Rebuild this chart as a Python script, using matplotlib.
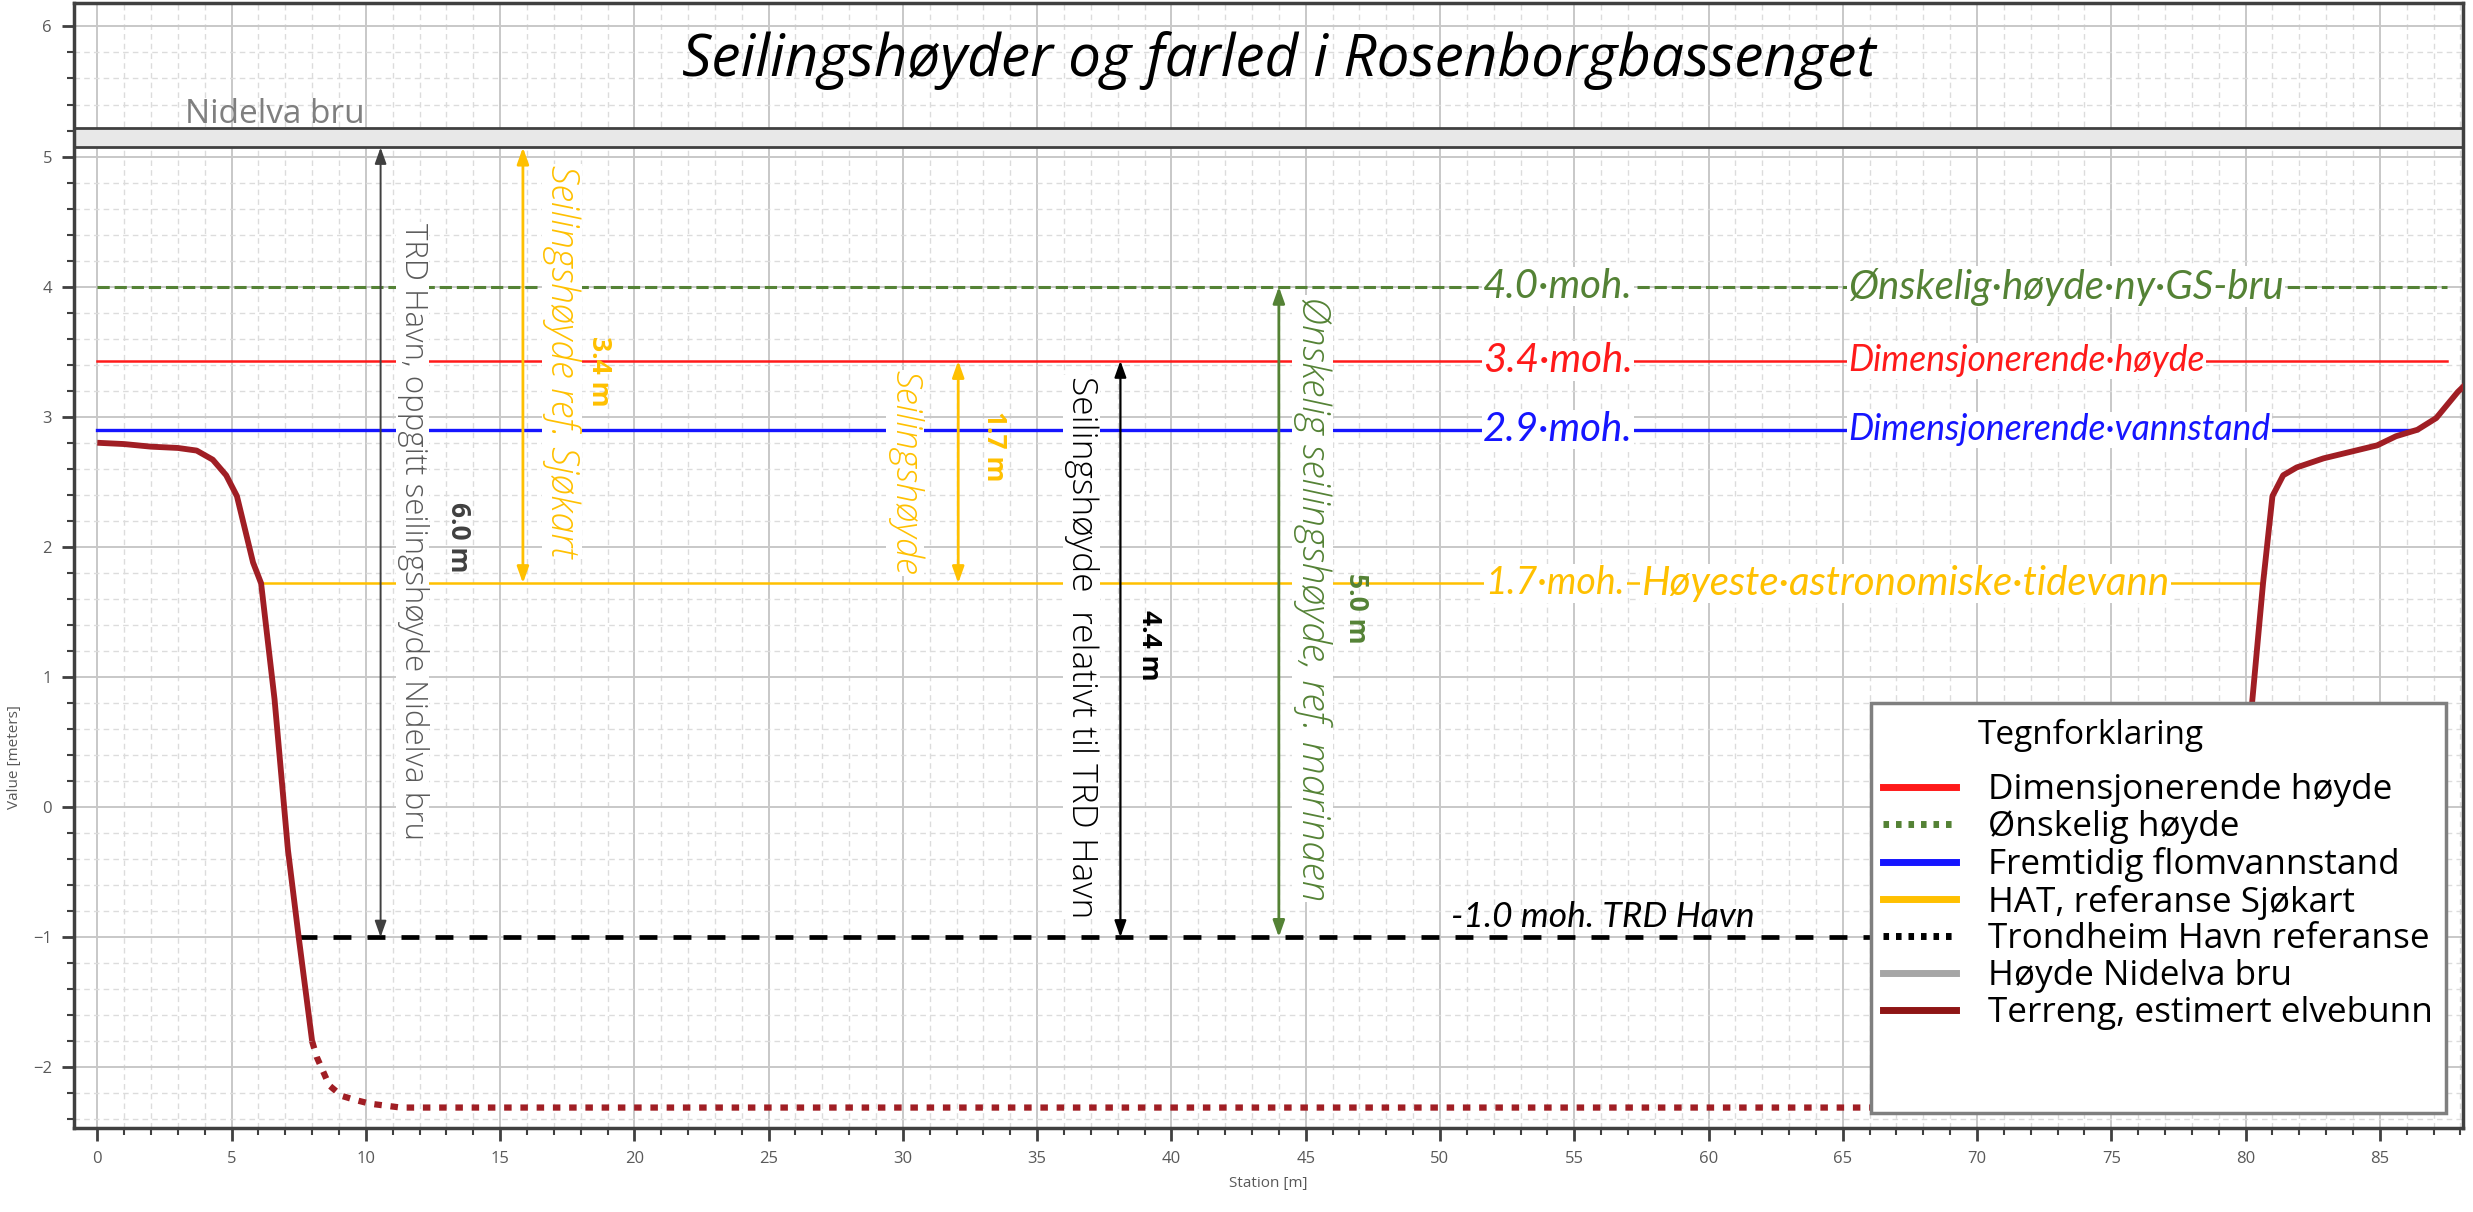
import matplotlib.pyplot as plt
from matplotlib.lines import Line2D
from matplotlib.patches import Rectangle
from matplotlib.ticker import MultipleLocator

# terrain profile, station [m] vs elevation [moh.]
terr_left_x = [0, 1, 2, 3, 3.7, 4.3, 4.8, 5.2, 5.8, 6.1, 6.6, 7.1, 7.5, 8.0]
terr_left_y = [2.80, 2.79, 2.77, 2.76, 2.74, 2.67, 2.55, 2.39, 1.88, 1.72, 0.83, -0.33, -1.0, -1.80]
bed_x = [8.0, 8.17, 8.64, 9.1, 9.58, 10.15, 11.3, 20, 40, 60, 79.0]
bed_y = [-1.80, -1.92, -2.14, -2.22, -2.25, -2.28, -2.31, -2.31, -2.31, -2.31, -2.31]
terr_right_x = [79.0, 79.6, 80.25, 80.65, 81.0, 81.4, 81.9, 82.9, 83.9, 84.9, 85.6, 86.4, 87.1, 87.9, 88.2]
terr_right_y = [-2.31, -1.0, 0.82, 1.72, 2.39, 2.55, 2.61, 2.68, 2.73, 2.78, 2.85, 2.90, 2.99, 3.19, 3.25]

# reference levels
wish_level = 4.0
design_level = 3.43
flood_level = 2.90
hat_level = 1.72
trd_level = -1.0
bridge_bottom = 5.07
bridge_top = 5.22

legend_labels = ["Dimensjonerende høyde", "Ønskelig høyde", "Fremtidig flomvannstand",
                 "HAT, referanse Sjøkart", "Trondheim Havn referanse", "Høyde Nidelva bru",
                 "Terreng, estimert elvebunn"]

RED = "#FF1A1A"
GREEN = "#548235"
BLUE = "#1515FF"
YELLOW = "#FFC000"
TERRAIN = "#A01E24"
DARK = "#404040"

fig = plt.figure(figsize=(24.73, 12.12), dpi=100)
ax = fig.add_axes([0.030, 0.069, 0.966, 0.9285])
ax.set_xlim(-0.86, 88.1)
ax.set_ylim(-2.47, 6.18)

# axes look
ax.xaxis.set_major_locator(MultipleLocator(5))
ax.xaxis.set_minor_locator(MultipleLocator(1))
ax.yaxis.set_major_locator(MultipleLocator(1))
ax.yaxis.set_minor_locator(MultipleLocator(0.2))
ax.grid(which="major", color="#c8c8c8", lw=1.4)
ax.grid(which="minor", color="#dcdcdc", lw=1.0, ls=(0, (4, 3)))
ax.set_axisbelow(True)
ax.tick_params(which="major", length=9, width=2, color=DARK, labelsize=12, labelcolor="#595959", pad=7)
ax.tick_params(which="minor", length=5, width=1.5, color=DARK)
for lab in ax.get_xticklabels() + ax.get_yticklabels():
    lab.set_family("Open Sans")
for s in ax.spines.values():
    s.set_color(DARK)
    s.set_linewidth(2.5)
ax.set_xlabel("Station [m]", fontsize=11, color="#595959", family="Open Sans", labelpad=7)
ax.set_ylabel("Value [meters]", fontsize=11, color="#595959", family="Open Sans")
ax.yaxis.set_label_coords(-0.022, 0.33)

# bridge
ax.axhspan(bridge_bottom, bridge_top, facecolor="#e8e8e8", edgecolor=DARK, lw=2, zorder=2)
ax.text(3.26, 5.26, "Nidelva bru", fontsize=24, color="#7f7f7f", family="Open Sans",
        va="baseline", zorder=3)

# title
ax.text(44.0, 5.62, "Seilingshøyder og farled i Rosenborgbassenget", fontsize=42,
        family="Open Sans", style="italic", ha="center", va="baseline", zorder=3)

# reference lines
ax.plot([0, 87.5], [wish_level, wish_level], color=GREEN, lw=2.2, ls=(0, (4, 1.6)), zorder=3)
ax.plot([0, 87.5], [design_level, design_level], color=RED, lw=1.8, zorder=3)
ax.plot([0, 86.4], [flood_level, flood_level], color=BLUE, lw=2.4, zorder=3)
ax.plot([6.1, 80.65], [hat_level, hat_level], color=YELLOW, lw=1.8, zorder=3)
ax.plot([7.5, 79.6], [trd_level, trd_level], color="black", lw=3.4, ls=(0, (3.8, 3.4)), zorder=3)

# terrain
ax.plot(terr_left_x, terr_left_y, color=TERRAIN, lw=4.2, solid_capstyle="butt", zorder=4)
ax.plot(bed_x, bed_y, color=TERRAIN, lw=4.5, ls=(0, (1.2, 1.4)), dash_capstyle="butt", zorder=4)
ax.plot(terr_right_x, terr_right_y, color=TERRAIN, lw=4.2, solid_capstyle="butt", zorder=4)

# labels on the reference lines
wbox = dict(facecolor="white", edgecolor="none", pad=1)
lab_kw = dict(family="Lato", style="italic", va="center", ha="left", bbox=wbox, zorder=5)
ax.text(51.6, wish_level, "4.0·moh.", color=GREEN, fontsize=29, **lab_kw)
ax.text(65.2, wish_level, "Ønskelig·høyde·ny·GS-bru", color=GREEN, fontsize=29, **lab_kw)
ax.text(51.6, design_level, "3.4·moh.", color=RED, fontsize=29, **lab_kw)
ax.text(65.2, design_level, "Dimensjonerende·høyde", color=RED, fontsize=25.6, **lab_kw)
ax.text(51.6, flood_level, "2.9·moh.", color=BLUE, fontsize=29, **lab_kw)
ax.text(65.2, flood_level, "Dimensjonerende·vannstand", color=BLUE, fontsize=25.6, **lab_kw)
ax.text(51.7, hat_level, "1.7·moh.", color=YELLOW, fontsize=27, **lab_kw)
ax.text(57.5, hat_level, "Høyeste·astronomiske·tidevann", color=YELLOW, fontsize=29, **lab_kw)
ax.text(50.4, -0.92, "-1.0 moh. TRD Havn", color="black", fontsize=25.5, family="Lato",
        style="italic", va="baseline", ha="left", zorder=5)


# height arrows
def height_arrow(x, y0, y1, color, lw):
    ax.annotate("", xy=(x, y1), xytext=(x, y0), zorder=6,
                arrowprops=dict(arrowstyle="<|-|>,head_length=0.7,head_width=0.25",
                                color=color, lw=lw, shrinkA=0, shrinkB=0, mutation_scale=14))


height_arrow(10.55, trd_level, bridge_bottom, DARK, 1.4)
height_arrow(15.85, hat_level, bridge_bottom, YELLOW, 2.0)
height_arrow(32.06, hat_level, design_level, YELLOW, 2.0)
height_arrow(38.1, trd_level, design_level, "black", 1.6)
height_arrow(44.0, trd_level, wish_level, GREEN, 2.0)

# vertical texts
vbox = dict(facecolor="white", edgecolor="none", pad=0.5)
vt = dict(rotation=270, ha="center", va="center", rotation_mode="anchor", zorder=5)
thin = dict(family="Open Sans", weight="light")
bold = dict(family="Open Sans", weight="bold", fontsize=19)
ax.text(11.74, 2.12, "TRD Havn, oppgitt seilingshøyde Nidelva bru", color="#595959",
        fontsize=22.5, bbox=vbox, **thin, **vt)
ax.text(13.46, 2.07, "6.0 m", color=DARK, **bold, **vt)
ax.text(17.3, 3.43, "Seilingshøyde ref. Sjøkart", color=YELLOW, fontsize=27,
        style="italic", bbox=vbox, **thin, **vt)
ax.text(18.7, 3.35, "3.4 m", color=YELLOW, **bold, **vt)
ax.text(30.09, 2.57, "Seilingshøyde", color=YELLOW, fontsize=26,
        style="italic", bbox=vbox, **thin, **vt)
ax.text(33.4, 2.77, "1.7 m", color=YELLOW, **bold, **vt)
ax.text(36.65, 1.23, "Seilingshøyde  relativt til TRD Havn", color="black", fontsize=25.5,
        bbox=vbox, **thin, **vt)
ax.text(39.2, 1.24, "4.4 m", color="black", **bold, **vt)
ax.text(45.26, 1.6, "Ønskelig seilingshøyde, ref. marinaen", color=GREEN, fontsize=28,
        style="italic", bbox=vbox, **thin, **vt)
ax.text(46.9, 1.53, "5.0 m", color=GREEN, **bold, **vt)

# legend box
ax.add_patch(Rectangle((0.752, 0.014), 0.241, 0.364, transform=ax.transAxes,
                       facecolor="white", edgecolor="#7f7f7f", lw=2.5, zorder=7))
ax.text(0.797, 0.349, "Tegnforklaring", transform=ax.transAxes, fontsize=24,
        family="Open Sans", va="center", ha="left", zorder=8)
handles = [
    Line2D([], [], color=RED, lw=5),
    Line2D([], [], color=GREEN, lw=5, ls=(0, (0.8, 1.0)), dash_capstyle="butt"),
    Line2D([], [], color=BLUE, lw=5),
    Line2D([], [], color=YELLOW, lw=5),
    Line2D([], [], color="black", lw=5, ls=(0, (0.8, 1.0)), dash_capstyle="butt"),
    Line2D([], [], color="#a6a6a6", lw=5),
    Line2D([], [], color="#8E1515", lw=5),
]
leg = ax.legend(handles, legend_labels, loc="center left", bbox_to_anchor=(0.757, 0.2015),
                frameon=False, handlelength=2.09, handletextpad=0.9,
                labelspacing=0.08, borderpad=0, borderaxespad=0,
                prop={"family": "Open Sans", "size": 25.3})
leg.set_zorder(8)

fig.savefig("out.png", dpi=100)
